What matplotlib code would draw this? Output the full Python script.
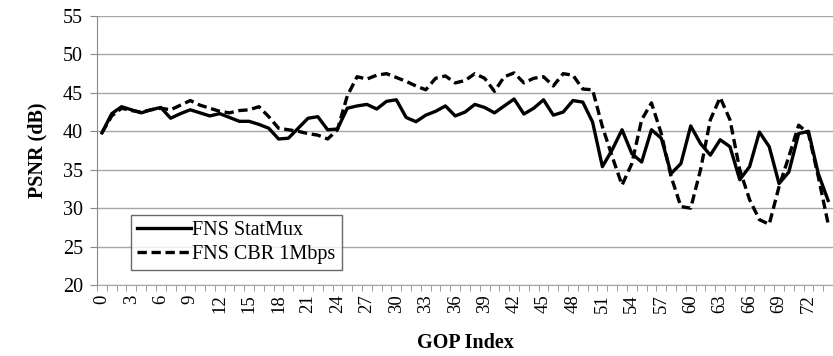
import numpy as np
import matplotlib.pyplot as plt
from matplotlib.ticker import FixedLocator

# PSNR per GOP for the two encoding schemes
gop = np.arange(75)
statmux = [39.8, 42.3, 43.2, 42.8, 42.4, 42.8, 43.1, 41.7, 42.3, 42.8,
           42.4, 42.0, 42.3, 41.8, 41.3, 41.3, 40.9, 40.4, 39.0, 39.1,
           40.4, 41.7, 41.9, 40.2, 40.3, 43.0, 43.3, 43.5, 42.9, 43.9,
           44.1, 41.8, 41.25, 42.1, 42.6, 43.3, 42.0, 42.5, 43.5, 43.1,
           42.4, 43.3, 44.2, 42.25, 43.0, 44.1, 42.1, 42.5, 44.0, 43.8,
           41.2, 35.4, 37.6, 40.2, 37.1, 36.0, 40.2, 39.1, 34.5, 35.8,
           40.7, 38.4, 36.9, 38.9, 38.0, 33.7, 35.4, 39.9, 38.0, 33.2,
           34.7, 39.7, 40.0, 34.5, 31.0]
cbr = [39.8, 42.0, 43.0, 42.7, 42.5, 42.8, 43.0, 42.8, 43.4, 44.0,
       43.4, 43.0, 42.6, 42.4, 42.7, 42.8, 43.2, 41.9, 40.4, 40.2,
       40.0, 39.7, 39.5, 39.0, 40.2, 44.6, 47.1, 46.8, 47.3, 47.5,
       47.0, 46.5, 45.9, 45.4, 46.9, 47.2, 46.3, 46.6, 47.5, 46.9,
       45.2, 47.1, 47.6, 46.3, 46.9, 47.1, 45.9, 47.5, 47.3, 45.5,
       45.4, 40.6, 36.7, 33.0, 35.8, 41.5, 43.7, 39.7, 34.1, 30.2,
       30.0, 35.0, 41.5, 44.4, 41.5, 35.0, 31.1, 28.5, 27.9, 32.8,
       36.7, 40.8, 39.7, 34.1, 28.0]
labels = ["FNS StatMux", "FNS CBR 1Mbps"]

plt.rcParams['font.family'] = ['Liberation Serif', 'DejaVu Serif']

fig = plt.figure(figsize=(8.33, 3.56), dpi=100)
ax = fig.add_axes([0.1165, 0.1994, 0.8835, 0.7556])

ax.plot(gop, statmux, color='black', lw=2.4, label=labels[0])
ax.plot(gop, cbr, color='black', lw=2.4, ls=(0, (2.8, 1.4)), label=labels[1])

ax.set_xlim(-0.5, 74.5)
ax.set_ylim(20, 55)
ax.set_yticks(np.arange(20, 56, 5))
ax.yaxis.grid(True, color='#a6a6a6', lw=1.0)
ax.set_axisbelow(True)

ax.set_xticks(gop[::3])
ax.set_xticklabels([str(g) for g in gop[::3]], rotation=90, fontsize=13.5)
ax.xaxis.set_minor_locator(FixedLocator(np.arange(-0.5, 75, 1)))
ax.tick_params(axis='x', which='major', length=0, pad=7)
ax.tick_params(axis='x', which='minor', length=4, color='#888888', direction='out')
ax.tick_params(axis='y', length=5, color='#888888', labelsize=14.5, pad=5)

for side in ['top', 'right']:
    ax.spines[side].set_visible(False)
ax.spines['left'].set_color('#888888')
ax.spines['bottom'].set_color('#a6a6a6')

ax.set_ylabel("PSNR (dB)", fontsize=14.5, fontweight='bold', labelpad=11)
ax.set_xlabel("GOP Index", fontsize=14.5, fontweight='bold', labelpad=14)

leg = ax.legend(loc='lower left', bbox_to_anchor=(0.046, 0.056), fontsize=14.5,
                frameon=True, fancybox=False, edgecolor='#444444',
                handlelength=2.7, handletextpad=0.05, borderpad=0.3,
                labelspacing=0.25, borderaxespad=0)
leg.get_frame().set_linewidth(1.0)

fig.savefig("out.png", dpi=100)
